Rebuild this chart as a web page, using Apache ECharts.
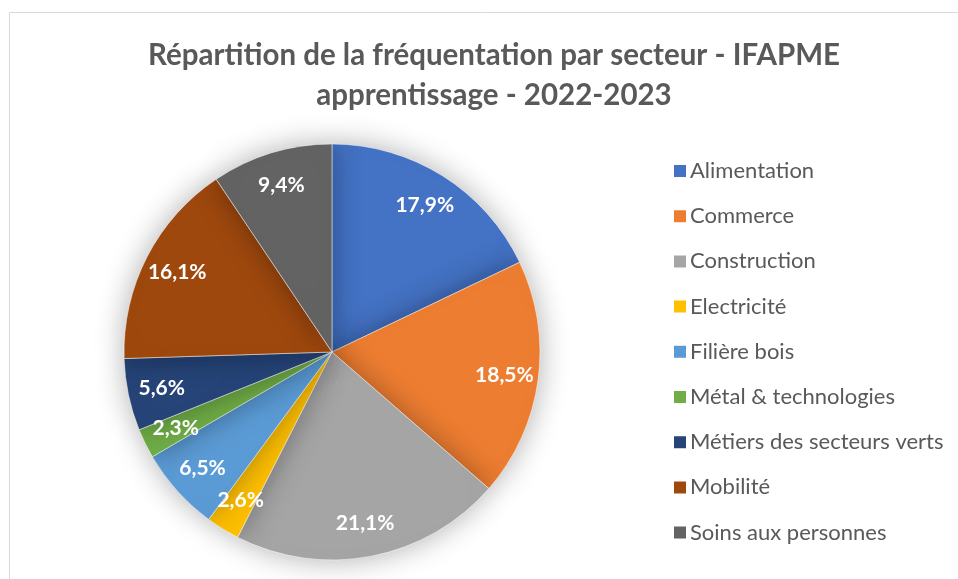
<!DOCTYPE html>
<html><head><meta charset="utf-8">
<script src="https://cdn.jsdelivr.net/npm/echarts@6/dist/echarts.min.js"></script>
<style>html,body{margin:0;padding:0;background:#fff}#c{width:958px;height:579px}</style>
</head><body><div id="c"></div>
<script>
const categories = ["Alimentation","Commerce","Construction","Electricité","Filière bois","Métal & technologies","Métiers des secteurs verts","Mobilité","Soins aux personnes"];
const values = [17.9,18.5,21.1,2.6,6.5,2.3,5.6,16.1,9.4];
const colors = ["#4472C4","#ED7D31","#A5A5A5","#FFC000","#5B9BD5","#70AD47","#264478","#9E480E","#636363"];
const titleText = "Répartition de la fréquentation par secteur - IFAPME\napprentissage - 2022-2023";

const FONT = "Lato";
const chart = echarts.init(document.getElementById('c'), null, {renderer:'canvas'});
const data = categories.map((n,i)=>({name:n, value:values[i], itemStyle:{color:colors[i]}}));
const fmt = p => p.value.toFixed(1).replace('.', ',') + '%';
chart.setOption({
  animation:false,
  graphic:[{type:'rect', shape:{x:9.5,y:12.5,width:1200,height:1000}, style:{fill:null, stroke:'#d9d9d9', lineWidth:1}, z:-10}],
  title:{text:titleText, left:489, top:30, textAlign:'center',
    textStyle:{fontFamily:FONT, fontWeight:'bold', fontSize:29.5, color:'#595959', lineHeight:40}},
  legend:{orient:'vertical', left:667, top:155, itemWidth:14, itemHeight:14, itemGap:23.2,
    icon:'rect', data:categories,
    textStyle:{fontFamily:FONT, fontSize:22, lineHeight:20, color:'#595959', padding:[0,0,0,-2]}},
  series:[
    {type:'pie', center:[332,352], radius:[0,208], startAngle:90, clockwise:true,
     data:data, label:{show:false}, labelLine:{show:false},
     itemStyle:{borderColor:'#fff', borderWidth:0.5, shadowBlur:30, shadowColor:'rgba(0,0,0,0.32)'},
     emphasis:{disabled:true}, silent:true},
    {type:'pie', center:[332,352], radius:[134,208], startAngle:90, clockwise:true,
     data:categories.map((n,i)=>({name:n, value:values[i]})),
     itemStyle:{color:'rgba(0,0,0,0)'}, labelLine:{show:false},
     label:{show:true, position:'inside', formatter:fmt, color:'#fff', fontFamily:FONT,
       fontWeight:'bold', fontSize:21},
     emphasis:{disabled:true}, silent:true, legendHoverLink:false}
  ]
});
</script></body></html>
